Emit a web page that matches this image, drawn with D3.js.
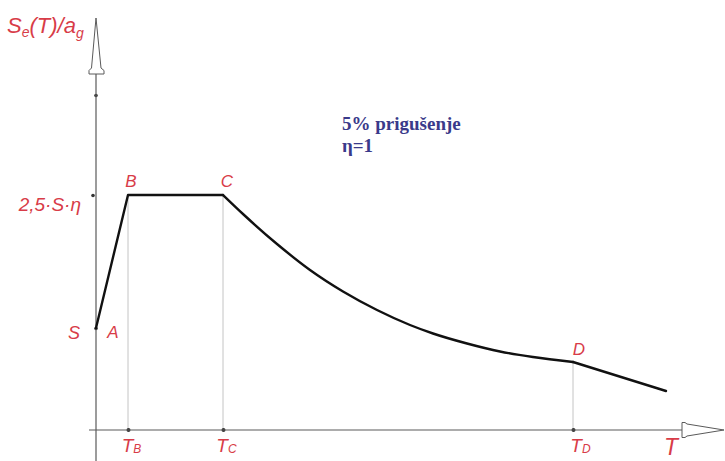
<!DOCTYPE html>
<html><head><meta charset="utf-8">
<script src="https://cdn.jsdelivr.net/npm/d3@7"></script>
<style>
html,body{margin:0;padding:0;background:#fff;}
svg{display:block;}
</style></head>
<body>
<svg id="c" width="725" height="461"></svg>
<script>
// ---- data (T in s, Se/ag in relative units) ----
const pointNames = ["A", "B", "C", "D"];
const pointT     = [0.0, 0.16, 0.635, 2.385];
const pointSe    = [1.02, 2.35, 2.35, 0.68];
// descending branch C -> D
const curveT  = [0.635, 0.735, 0.905, 1.07, 1.235, 1.405, 1.57, 1.685, 1.855, 2.02, 2.185, 2.385];
const curveSe = [2.35, 2.16, 1.86, 1.60, 1.385, 1.20, 1.05, 0.965, 0.865, 0.785, 0.73, 0.68];
// tail after D
const tailT  = [2.385, 2.85];
const tailSe = [0.68, 0.39];
// axis ticks
const xTickValues = [0.16, 0.635, 2.385];
const xTickMain   = ["T", "T", "T"];
const xTickSub    = ["B", "C", "D"];
const yTickValues = [1.02, 2.35, 3.35];
const yTickLabels = ["S", "2,5·S·η", ""];
const noteLines   = ["5% prigušenje", "η=1"];

// ---- layout / style ----
const RED = "#d83c48", AX = "#5a5a5a", GUIDE = "#c4c4c4", BLUE = "#3a3a8a";
const FONT = "Liberation Sans, Arial, sans-serif";
const svg = d3.select("#c");
const x = d3.scaleLinear().domain([0, 3]).range([96, 696]);
const y = d3.scaleLinear().domain([0, 4]).range([430, 30]);

// guide lines (vertical, from curve to axis)
const guideT  = [pointT[1], pointT[2], pointT[3]];
const guideSe = [pointSe[1], pointSe[2], pointSe[3]];
svg.selectAll("line.guide").data(guideT).join("line")
  .attr("class", "guide")
  .attr("x1", d => x(d)).attr("x2", d => x(d))
  .attr("y1", (d, i) => y(guideSe[i])).attr("y2", y(0))
  .attr("stroke", GUIDE).attr("stroke-width", 1);

// x axis
const xAxisG = svg.append("g").attr("transform", `translate(0,${y(0)})`)
  .call(d3.axisBottom(x).tickValues(xTickValues).tickSize(0).tickFormat(""));
xAxisG.select(".domain").remove();
xAxisG.append("line").attr("x1", 89).attr("x2", 682).attr("y1", 0).attr("y2", 0)
  .attr("stroke", AX).attr("stroke-width", 1.2);
xAxisG.selectAll(".tick").append("circle").attr("r", 2).attr("fill", "#333");
const xOff = [3, 3, 7];
xAxisG.selectAll(".tick").each(function (d, i) {
  const t = d3.select(this).append("text")
    .attr("x", xOff[i]).attr("y", 22).attr("text-anchor", "middle")
    .attr("fill", RED).attr("font-family", FONT)
    .attr("font-style", "italic").attr("font-size", 19);
  t.append("tspan").text(xTickMain[i]);
  t.append("tspan").attr("font-size", 12).attr("dy", 1).text(xTickSub[i]);
});
// x arrow
svg.append("polygon")
  .attr("points", [[724, y(0)], [687, y(0) - 6], [685, y(0) - 7.5], [682, y(0) - 7.5],
                   [682, y(0) + 7.5], [685, y(0) + 7.5], [687, y(0) + 6]].join(" "))
  .attr("fill", "#fff").attr("stroke", AX).attr("stroke-width", 1);
svg.append("text").attr("x", 671).attr("y", 455).attr("text-anchor", "middle")
  .attr("fill", RED).attr("font-family", FONT)
  .attr("font-style", "italic").attr("font-size", 23).text("T");

// y axis
const yAxisG = svg.append("g").attr("transform", `translate(${x(0)},0)`)
  .call(d3.axisLeft(y).tickValues(yTickValues).tickSize(0).tickFormat(""));
yAxisG.select(".domain").remove();
yAxisG.append("line").attr("x1", 0).attr("x2", 0).attr("y1", 74).attr("y2", 461)
  .attr("stroke", AX).attr("stroke-width", 1.2);
yAxisG.selectAll(".tick").append("circle").attr("cx", (d, i) => i === 1 ? -3 : 0)
  .attr("r", 1.8).attr("fill", "#333");
const yLabDy = [10, 15, 0];
const yLabDx = [-16, -15, 0];
yAxisG.selectAll(".tick").append("text")
  .attr("x", (d, i) => yLabDx[i]).attr("y", (d, i) => yLabDy[i])
  .attr("text-anchor", "end").attr("fill", RED)
  .attr("font-family", FONT)
  .attr("font-style", "italic").attr("font-size", (d, i) => i === 1 ? 19 : 18)
  .text((d, i) => yTickLabels[i]);
// y arrow
svg.append("polygon")
  .attr("points", [[96, 18], [91.5, 68], [89, 70.5], [89, 74], [104, 74], [104, 70.5], [101, 68]].join(" "))
  .attr("fill", "#fff").attr("stroke", AX).attr("stroke-width", 1);
// y title
const yt = svg.append("text").attr("x", 7).attr("y", 33).attr("fill", RED)
  .attr("font-family", FONT)
  .attr("font-style", "italic").attr("font-size", 22);
yt.append("tspan").text("S");
yt.append("tspan").attr("font-size", 14).attr("dy", 4).text("e");
yt.append("tspan").attr("dy", -4).text("(T)/a");
yt.append("tspan").attr("font-size", 14).attr("dy", 5).text("g");

// spectrum line
const lin = d3.line().x(d => x(d[0])).y(d => y(d[1]));
const smooth = d3.line().x(d => x(d[0])).y(d => y(d[1])).curve(d3.curveMonotoneX);
const pieces = [
  {pts: d3.zip(pointT.slice(0, 3), pointSe.slice(0, 3)), gen: lin},
  {pts: d3.zip(curveT, curveSe), gen: smooth},
  {pts: d3.zip(tailT, tailSe), gen: lin}
];
svg.selectAll("path.sp").data(pieces).join("path").attr("class", "sp")
  .attr("d", p => p.gen(p.pts)).attr("fill", "none")
  .attr("stroke", "#111").attr("stroke-width", 2.4)
  .attr("stroke-linejoin", "round").attr("stroke-linecap", "round");

// point labels
const pDx = [17, 3, 4, 6];
const pDy = [10, -8, -8, -7];
svg.selectAll("text.pt").data(pointNames).join("text").attr("class", "pt")
  .attr("x", (d, i) => x(pointT[i]) + pDx[i]).attr("y", (d, i) => y(pointSe[i]) + pDy[i])
  .attr("text-anchor", "middle").attr("fill", RED)
  .attr("font-family", FONT)
  .attr("font-style", "italic").attr("font-size", 17).text(d => d);

// note
svg.selectAll("text.note").data(noteLines).join("text").attr("class", "note")
  .attr("x", 342).attr("y", (d, i) => 130 + i * 22)
  .attr("fill", BLUE).attr("font-family", "Liberation Serif, Times New Roman, serif")
  .attr("font-weight", "bold").attr("font-size", 19).text(d => d);
</script>
</body></html>
